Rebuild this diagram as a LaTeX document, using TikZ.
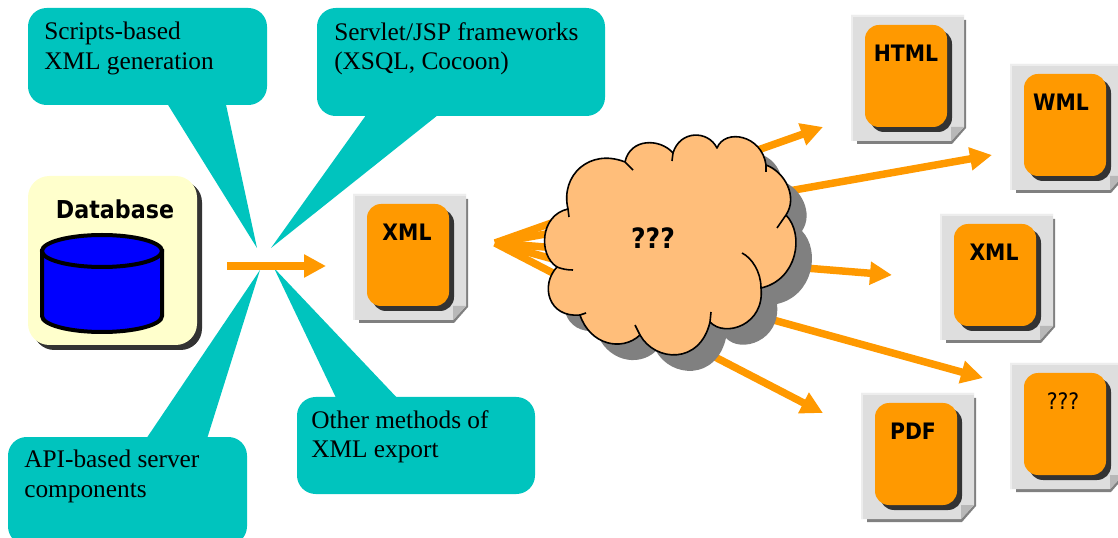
\documentclass[tikz,border=0pt]{standalone}
\usepackage{fontspec}
\setmainfont{Liberation Serif}
\newfontfamily\labelfont{DejaVu Sans Condensed}
\usetikzlibrary{arrows.meta}
\definecolor{calloutteal}{RGB}{0,196,190}
\definecolor{arroworange}{RGB}{255,153,0}
\definecolor{cloudorange}{RGB}{255,190,122}
\definecolor{dbyellow}{RGB}{255,255,204}
\tikzset{
	callout/.style={fill=calloutteal},
	callouttext/.style={anchor=north west,inner sep=0pt,align=left,font=\fontsize{19}{22}\selectfont},
	flowarrow/.style={draw=arroworange,line width=5.6pt,-{Triangle[length=16.5pt,width=16.5pt]}},
	boldlabel/.style={font=\labelfont\fontsize{17}{20}\selectfont\bfseries,inner sep=0pt},
	plainlabel/.style={font=\labelfont\fontsize{17}{20}\selectfont,inner sep=0pt},
}
\newcommand{\cloudoutline}{
	(625,162) .. controls (630,138) and (660,138) .. (673,153)
	.. controls (680,130) and (708,130) .. (717,148)
	.. controls (725,128) and (762,135) .. (766,165)
	.. controls (785,172) and (798,197) .. (786,215)
	.. controls (805,235) and (797,280) .. (761,288)
	.. controls (765,325) and (725,338) .. (710,322)
	.. controls (700,365) and (655,362) .. (640,335)
	.. controls (622,352) and (590,345) .. (580,315)
	.. controls (548,318) and (540,285) .. (557,267)
	.. controls (538,255) and (540,215) .. (568,209)
	.. controls (560,175) and (590,148) .. (625,162)
	-- cycle
}
\begin{document}
\begin{tikzpicture}[x=0.75pt,y=-0.75pt]
	\useasboundingbox (0,0) rectangle (1118,538);
	\fill [callout,rounded corners=14pt] (28,8) rectangle (267,105);
	\fill [callout] (165,100) -- (257,248) -- (225,100) -- cycle;
	\fill [callout,rounded corners=14pt] (317,8) rectangle (605,116);
	\fill [callout] (369,111) -- (271,248) -- (443,111) -- cycle;
	\fill [callout,rounded corners=14pt] (8,437) rectangle (247,545);
	\fill [callout] (144,442) -- (260,270) -- (206,442) -- cycle;
	\fill [callout,rounded corners=14pt] (297,397) rectangle (535,494);
	\fill [callout] (338,402) -- (274,268) -- (401,402) -- cycle;
	\node [callouttext] (scripts) at (44,22) {Scripts-based\\XML generation};
	\node [callouttext] (servlet) at (334,22) {Servlet/JSP frameworks\\(XSQL, Cocoon)};
	\node [callouttext] (api) at (24,450) {API-based server\\components};
	\node [callouttext] (other) at (311,410) {Other methods of\\XML export};

	\fill [black!80,rounded corners=16pt] (33,181) rectangle (202,350);
	\fill [dbyellow,rounded corners=16pt] (28,176) rectangle (197,345);
	\node [boldlabel,font=\labelfont\fontsize{18.5}{20}\selectfont\bfseries] (database) at (115,209) {Database};
	\draw [fill=blue,line width=3pt] (42,251) -- (42,316) arc [start angle=180,end angle=0,x radius=60,y radius=16] -- (162,251) -- cycle;
	\draw [fill=blue,line width=3pt] (102,251) ellipse [x radius=60,y radius=16];

	\coordinate (exportstart) at (227,266);
	\coordinate (exportend) at (326,266);
	\draw [flowarrow] (exportstart) to (exportend);

	\coordinate (fan) at (495,243);
	\coordinate (htmlend) at (823,127);
	\coordinate (wmlend) at (992,155);
	\coordinate (xmlend) at (892,275);
	\coordinate (unknownend) at (983,378);
	\coordinate (pdfend) at (823,413);
	\foreach \arrowend in {htmlend,wmlend,xmlend,unknownend,pdfend}
		\draw [flowarrow] (fan) to (\arrowend);

	\fill [black!50,shift={(16,16)}] \cloudoutline;
	\draw [fill=cloudorange,line width=1.2pt,line join=round] \cloudoutline;
	\draw [line width=1.2pt] (673,153) -- (672,161);
	\draw [line width=1.2pt] (766,165) -- (766,172);
	\draw [line width=1.2pt] (786,215) -- (777,228);
	\draw [line width=1.2pt] (742,253) .. controls (752,258) and (761,272) .. (761,288);
	\draw [line width=1.2pt] (710,322) -- (711,312);
	\draw [line width=1.2pt] (640,335) -- (635,325);
	\draw [line width=1.2pt] (580,315) -- (586,313);
	\draw [line width=1.2pt] (557,267) .. controls (562,269) and (567,270) .. (573,270);
	\draw [line width=1.2pt] (568,209) -- (569,217);
	\draw [line width=1.2pt] (625,162) -- (633,170);
	\node [boldlabel,font=\labelfont\fontsize{21}{24}\selectfont\bfseries] (cloudlabel) at (653,238) {???};

	\foreach \docname/\docx/\docy/\labelx/\docstyle/\doctext in {
		xmldoc/353/194/54/boldlabel/XML,
		htmldoc/851/15/55/boldlabel/HTML,
		wmldoc/1010/64/51/boldlabel/WML,
		xmloutdoc/940/214/54/boldlabel/XML,
		pdfdoc/861/393/52/boldlabel/PDF,
		unknowndoc/1010/363/53/plainlabel/???}
	{
		\begin{scope}[shift={(\docx,\docy)}]
			\fill [black!50] (6,5) -- (115,5) -- (115,113) -- (101,129) -- (6,129) -- cycle;
			\fill [black!13] (0,0) -- (113,0) -- (113,112) -- (100,126) -- (0,126) -- cycle;
			\fill [black!7] (0,0) rectangle (113,2);
			\fill [black!7] (0,0) rectangle (2,126);
			\fill [black!28] (100,112) -- (113,112) -- (100,126) -- cycle;
			\fill [black!80,rounded corners=10.5pt] (19,15) rectangle (101,117);
			\fill [arroworange,rounded corners=10.5pt] (14,10) rectangle (96,112);
			\node [\docstyle] (\docname) at (\labelx,38) {\doctext};
		\end{scope}
	}
\end{tikzpicture}
\end{document}
